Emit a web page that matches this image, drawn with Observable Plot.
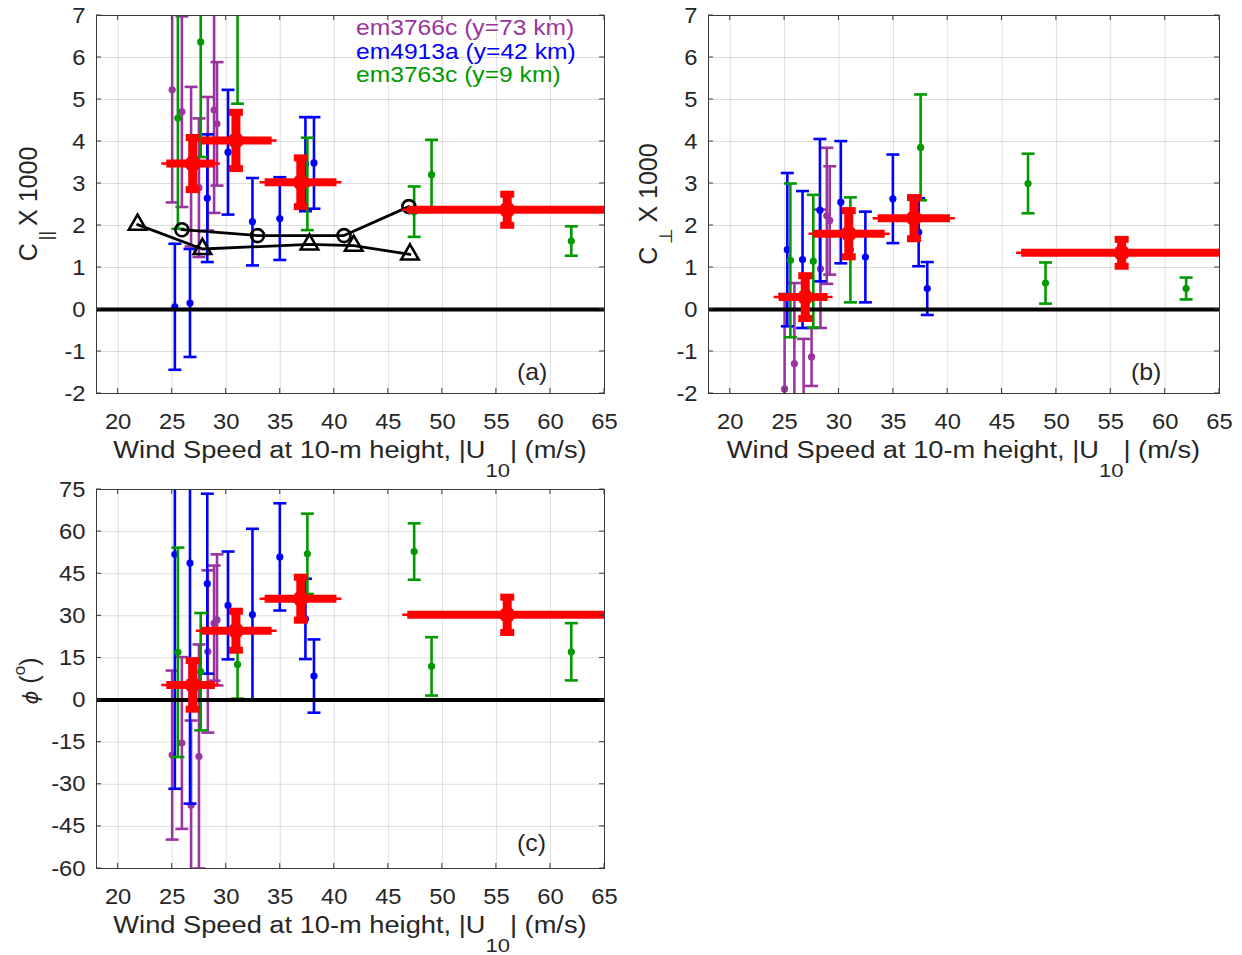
<!DOCTYPE html>
<html><head><meta charset="utf-8">
<script src="https://cdn.jsdelivr.net/npm/d3@7"></script>
<script src="https://cdn.jsdelivr.net/npm/@observablehq/plot@0.6"></script>
<style>
html,body{margin:0;padding:0;background:#fff;}
#wrap{position:relative;width:1242px;height:955px;overflow:hidden;font-family:'Liberation Sans',Arial,Helvetica,sans-serif;}
.panel{position:absolute;}
</style></head><body><div id="wrap"></div>
<script>
// ---------- tick labels ----------
const xTicks = [20, 25, 30, 35, 40, 45, 50, 55, 60, 65];
const cTicks = [-2, -1, 0, 1, 2, 3, 4, 5, 6, 7];
const phiTicks = [-60, -45, -30, -15, 0, 15, 30, 45, 60, 75];

// ---------- wind speeds |U10| (m/s) of each run ----------
const purpleU = [25.0, 25.9, 26.75, 27.48, 28.3, 28.88, 29.15];   // em3766c (y=73 km)
const blueU   = [25.25, 26.65, 28.25, 30.17, 32.43, 34.96, 37.33, 38.12]; // em4913a (y=42 km)
const greenU  = [25.53, 27.64, 31.05, 37.51, 47.39, 49.0, 61.93]; // em3763c (y=9 km)

// ---------- panel (a): C_par x 1000 ----------
const purpleCpar    = [5.23, 4.71, 3.4, 2.9, 3.47, 4.75, 4.42];
const purpleCparErr = [2.68, 2.27, 1.9, 1.65, 1.59, 2.45, 1.47];
const blueCpar      = [0.065, 0.155, 2.65, 3.745, 2.09, 2.165, 3.46, 3.49];
const blueCparErr   = [1.5, 1.285, 1.52, 1.485, 1.04, 0.985, 1.12, 1.09];
const greenCpar     = [4.56, 6.37, 7.6, 2.99, 2.33, 3.21, 1.63];
const greenCparErr  = [2.64, 2.74, 2.7, 1.1, 0.6, 0.83, 0.35];

// ---------- panel (b): C_perp x 1000 ----------
const purpleCperp    = [-1.89, -1.29, -2.6, -1.13, 0.97, 2.23, 2.12];
const purpleCperpErr = [2.26, 1.92, 1.9, 0.69, 1.41, 1.62, 1.29];
const blueCperp      = [1.425, 1.19, 2.365, 2.555, 1.25, 2.635, 1.84, 0.5];
const blueCperpErr   = [1.825, 1.63, 1.695, 1.455, 1.08, 1.055, 0.81, 0.63];
const greenCperp     = [1.17, 1.15, 1.42, 3.86, 3.0, 0.63, 0.5];
const greenCperpErr  = [1.83, 1.58, 1.25, 1.26, 0.71, 0.49, 0.26];

// ---------- panel (c): phi (deg) ----------
const purplePhi    = [-19.6, -15.3, -37.5, -20.1, 17.3, 27.4, 28.55];
const purplePhiErr = [30.1, 30.6, 30.2, 39.9, 28.9, 20.5, 23.35];
const bluePhi      = [51.9, 48.8, 41.45, 33.7, 30.45, 51.0, 28.9, 8.55];
const bluePhiErr   = [83.5, 85.7, 32.05, 19.2, 30.55, 19.1, 14.3, 13.05];
const greenPhi     = [17.0, 10.1, 12.7, 52.1, 52.9, 12.0, 17.2];
const greenPhiErr  = [37.3, 20.9, 12.2, 14.3, 10.05, 10.4, 10.2];

// ---------- bin averages (red) ----------
const redU   = [26.9, 30.9, 36.9, 56.0];
const redULo = [24.5, 27.7, 33.6, 46.8];
const redUHi = [29.0, 34.25, 40.25, 65.2];
const redCpar     = [3.475, 4.025, 3.03, 2.375];
const redCparErr  = [0.62, 0.67, 0.58, 0.37];
const redCperp    = [0.295, 1.805, 2.175, 1.35];
const redCperpErr = [0.51, 0.55, 0.49, 0.32];
const redPhi      = [5.4, 24.7, 36.1, 30.35];
const redPhiErr   = [8.65, 6.95, 7.65, 6.3];

// ---------- model curves in panel (a) ----------
const modelCircU = [25.9, 32.9, 40.9, 46.9];
const modelCirc  = [1.90, 1.76, 1.76, 2.45];
const modelTriU  = [21.8, 27.8, 37.7, 41.8, 47.0];
const modelTri   = [2.02, 1.44, 1.55, 1.52, 1.31];

const legendItems = ["em3766c (y=73 km)", "em4913a (y=42 km)", "em3763c (y=9 km)"];

// ---------- styles ----------
const PURPLE = "#9a35a0", BLUE = "#0000ff", GREEN = "#009a00", RED = "#ff0000";
const TXT = "#262626";
const FONT = "'Liberation Sans', Arial, Helvetica, sans-serif";
const TICKK = 1.08, LABK = 1.16, LEGK = 1.12;

const capSym = {draw(ctx, size){ const r = Math.sqrt(size / Math.PI); ctx.moveTo(-r, 0); ctx.lineTo(r, 0); }};

function rows(u, v, e){ return u.map((x, i) => ({x, y: v[i], e: e[i]})); }
function redRows(v, e){ return redU.map((x, i) => ({x, lo: redULo[i], hi: redUHi[i], y: v[i], e: e[i]})); }
function ptRows(u, v){ return u.map((x, i) => ({x, y: v[i]})); }

function errMarks(data, color){
  const o = {x: "x", stroke: color, strokeWidth: 2.6, clip: true};
  return [
    Plot.ruleX(data, {...o, y1: d => d.y - d.e, y2: d => d.y + d.e}),
    Plot.dot(data, {...o, y: d => d.y + d.e, symbol: capSym, r: 6.5, fill: "none"}),
    Plot.dot(data, {...o, y: d => d.y - d.e, symbol: capSym, r: 6.5, fill: "none"}),
    Plot.dot(data, {x: "x", y: "y", r: 3.6, fill: color, stroke: "none", clip: true})
  ];
}
function redMarks(data){
  return [
    Plot.ruleY(data, {y: "y", x1: "lo", x2: "hi", stroke: RED, strokeWidth: 2.5, insetLeft: -5, insetRight: -5, clip: true}),
    Plot.ruleY(data, {y: "y", x1: "lo", x2: "hi", stroke: RED, strokeWidth: 8, clip: true}),
    Plot.ruleX(data, {x: "x", y1: d => d.y - d.e, y2: d => d.y + d.e, stroke: RED, strokeWidth: 9, clip: true}),
    Plot.dot(data, {x: "x", y: d => d.y + d.e, symbol: capSym, r: 7, stroke: RED, strokeWidth: 7, fill: "none", clip: true}),
    Plot.dot(data, {x: "x", y: d => d.y - d.e, symbol: capSym, r: 7, stroke: RED, strokeWidth: 7, fill: "none", clip: true}),
    Plot.dot(data, {x: "x", y: "y", r: 8, fill: RED, stroke: "none", clip: true})
  ];
}
function stretch(sel, k){
  sel.each(function(){
    const t = this.getAttribute("transform");
    if (t && t.includes("translate")) {
      this.setAttribute("transform", t + ` scale(${k},1)`);
    } else {
      const x = +(this.getAttribute("x") || 0), y = +(this.getAttribute("y") || 0);
      this.setAttribute("x", 0); this.setAttribute("y", 0);
      this.setAttribute("transform", (t ? t + " " : "") + `translate(${x},${y}) scale(${k},1)`);
    }
  });
}

function panel(cfg){
  const {left, top, width, height, ml, mr, mt, mb, yDomain, yTicks, series, red, extra = [], after} = cfg;
  const plot = Plot.plot({
    width, height, marginLeft: ml, marginRight: mr, marginTop: mt, marginBottom: mb,
    style: {fontFamily: FONT, fontSize: "22px", color: TXT, background: "transparent", overflow: "visible"},
    x: {domain: [18, 65]},
    y: {domain: yDomain},
    marks: [
      Plot.gridX(xTicks, {stroke: "#000", strokeOpacity: 0.13, strokeWidth: 1}),
      Plot.gridY(yTicks, {stroke: "#000", strokeOpacity: 0.13, strokeWidth: 1}),
      ...series.flatMap(([d, c]) => errMarks(d, c)),
      Plot.ruleY([0], {stroke: "#000", strokeWidth: 4}),
      ...extra,
      ...redMarks(red),
      Plot.frame({stroke: "#3a3a3a", strokeWidth: 1}),
      Plot.axisX(xTicks, {tickSize: 0, tickPadding: 20, fontSize: 22, fill: TXT, label: null, tickFormat: d => String(d)}),
      Plot.axisY(yTicks, {tickSize: 0, tickPadding: 11, fontSize: 22, fill: TXT, label: null, tickFormat: d => String(d)})
    ]
  });
  const svg = d3.select(plot);
  stretch(svg.selectAll("g[aria-label='x-axis tick label'] text"), TICKK);
  stretch(svg.selectAll("g[aria-label='y-axis tick label'] text"), TICKK);
  const sx = plot.scale("x"), sy = plot.scale("y");
  const tg = svg.append("g").attr("stroke", "#3a3a3a").attr("stroke-width", 1);
  const yb = height - mb, xr = width - mr;
  for (const t of xTicks) {
    const p = sx.apply(t);
    tg.append("line").attr("x1", p).attr("x2", p).attr("y1", yb).attr("y2", yb - 5);
    tg.append("line").attr("x1", p).attr("x2", p).attr("y1", mt).attr("y2", mt + 5);
  }
  for (const t of yTicks) {
    const p = sy.apply(t);
    tg.append("line").attr("x1", ml).attr("x2", ml + 5).attr("y1", p).attr("y2", p);
    tg.append("line").attr("x1", xr).attr("x2", xr - 5).attr("y1", p).attr("y2", p);
  }
  // x-axis label with subscript
  const cx = (ml + xr) / 2;
  const xl = svg.append("text").attr("transform", `translate(${cx},${yb + 65}) scale(${LABK},1)`)
    .attr("text-anchor", "middle").attr("font-size", 23.5).attr("fill", TXT).attr("font-family", FONT);
  xl.append("tspan").text("Wind Speed at 10-m height, |U");
  xl.append("tspan").attr("font-size", 19).attr("dy", 19).text("10");
  xl.append("tspan").attr("dy", -19).text("| (m/s)");
  if (after) after(svg, {sx, sy, yb, xr, ml, mt});
  const div = document.createElement("div");
  div.className = "panel";
  div.style.left = left + "px"; div.style.top = top + "px";
  div.appendChild(plot);
  document.getElementById("wrap").appendChild(div);
}

function yLabelC(svg, sub, cy){
  const t = svg.append("text").attr("transform", `translate(37,${cy}) rotate(-90)`)
    .attr("text-anchor", "middle").attr("font-size", 25).attr("fill", TXT).attr("font-family", FONT);
  t.append("tspan").text("C");
  t.append("tspan").attr("font-size", 18).attr("dy", 15).attr("dx", 3).text(sub);
  t.append("tspan").attr("dy", -15).attr("dx", 5).text("X 1000");
}
function tag(svg, label, x, y){
  svg.append("text").attr("transform", `translate(${x},${y}) scale(${TICKK},1)`).attr("font-size", 23)
    .attr("text-anchor", "start").attr("fill", TXT).attr("font-family", FONT).text(label);
}

// ---------- panel (a) ----------
panel({
  left: 0, top: 0, width: 620, height: 480, ml: 96, mr: 16, mt: 15, mb: 87,
  yDomain: [-2, 7], yTicks: cTicks,
  series: [[rows(purpleU, purpleCpar, purpleCparErr), PURPLE],
           [rows(blueU, blueCpar, blueCparErr), BLUE],
           [rows(greenU, greenCpar, greenCparErr), GREEN]],
  red: redRows(redCpar, redCparErr),
  extra: [
    Plot.line(ptRows(modelCircU, modelCirc), {x: "x", y: "y", stroke: "#000", strokeWidth: 2.8}),
    Plot.dot(ptRows(modelCircU, modelCirc), {x: "x", y: "y", r: 6.5, stroke: "#000", strokeWidth: 2.6, fill: "none"}),
    Plot.line(ptRows(modelTriU, modelTri), {x: "x", y: "y", stroke: "#000", strokeWidth: 2.8}),
    Plot.dot(ptRows(modelTriU, modelTri), {x: "x", y: "y", symbol: "triangle", r: 6.5, stroke: "#000", strokeWidth: 2.6, fill: "none"})
  ],
  after(svg){
    yLabelC(svg, "||", 204);
    tag(svg, "(a)", 517, 380);
    const cols = [PURPLE, BLUE, GREEN];
    legendItems.forEach((s, i) => {
      svg.append("text").attr("transform", `translate(356,${35 + i * 23.5}) scale(${LEGK},1)`)
        .attr("text-anchor", "start").attr("font-size", 22).attr("fill", cols[i]).attr("font-family", FONT).text(s);
    });
  }
});

// ---------- panel (b) ----------
panel({
  left: 620, top: 0, width: 622, height: 480, ml: 88, mr: 23, mt: 15, mb: 87,
  yDomain: [-2, 7], yTicks: cTicks,
  series: [[rows(purpleU, purpleCperp, purpleCperpErr), PURPLE],
           [rows(blueU, blueCperp, blueCperpErr), BLUE],
           [rows(greenU, greenCperp, greenCperpErr), GREEN]],
  red: redRows(redCperp, redCperpErr),
  after(svg){
    yLabelC(svg, "\u22A5", 204);
    tag(svg, "(b)", 511, 380);
  }
});

// ---------- panel (c) ----------
panel({
  left: 0, top: 474, width: 620, height: 481, ml: 96, mr: 16, mt: 15, mb: 87,
  yDomain: [-60, 75], yTicks: phiTicks,
  series: [[rows(purpleU, purplePhi, purplePhiErr), PURPLE],
           [rows(blueU, bluePhi, bluePhiErr), BLUE],
           [rows(greenU, greenPhi, greenPhiErr), GREEN]],
  red: redRows(redPhi, redPhiErr),
  after(svg){
    const t = svg.append("text").attr("transform", `translate(38,207) rotate(-90)`)
      .attr("text-anchor", "middle").attr("font-size", 25).attr("fill", TXT).attr("font-family", FONT);
    t.append("tspan").attr("font-style", "italic").attr("font-family", "'DejaVu Sans', sans-serif").attr("font-size", 21).text("\u03D5");
    t.append("tspan").text(" (");
    t.append("tspan").attr("font-size", 17).attr("dy", -13).text("o");
    t.append("tspan").attr("dy", 13).text(")");
    tag(svg, "(c)", 517, 377);
  }
});
</script></body></html>
